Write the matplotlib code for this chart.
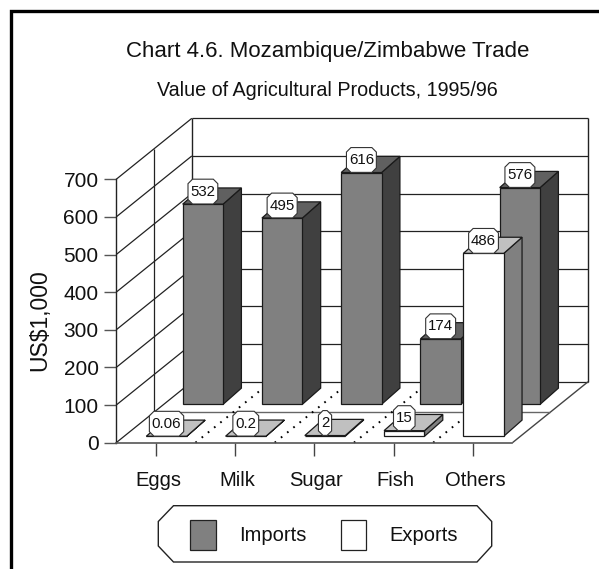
import matplotlib
matplotlib.use('Agg')
import matplotlib.pyplot as plt
from matplotlib.patches import Polygon, Rectangle
from matplotlib.path import Path
from matplotlib.transforms import ScaledTranslation

plt.rcParams['font.family'] = ['Liberation Sans', 'DejaVu Sans']

categories = ['Eggs', 'Milk', 'Sugar', 'Fish', 'Others']
imports = [532, 495, 616, 174, 576]
exports = [0.06, 0.2, 2, 15, 486]
export_labels = ['0.06', '0.2', '2', '15', '486']
yticks = [0, 100, 200, 300, 400, 500, 600, 700]

# oblique projection, in category / value units
DEPTH_X, DEPTH_Y = 0.954, 162
BAR_W = 0.51
BAR_DX, BAR_DY = 0.231, 43
INK = '#222222'

fig = plt.figure(figsize=(5.99, 5.69), dpi=100)

# page furniture in pixel coordinates
page = fig.add_axes([0, 0, 1, 1])
page.set_xlim(0, 599)
page.set_ylim(569, 0)
page.axis('off')
page.plot([11.3, 11.3, 599], [569, 10.6, 10.6], color='black', lw=2.4,
          solid_joinstyle='miter')

fig.text(328 / 599, 1 - 51.5 / 569, 'Chart 4.6. Mozambique/Zimbabwe Trade',
         ha='center', va='center', fontsize=16, color='#111111')
fig.text(327 / 599, 1 - 90 / 569, 'Value of Agricultural Products, 1995/96',
         ha='center', va='center', fontsize=14.2, color='#111111')

# legend box
page.add_patch(Polygon([(173.5, 505.7), (477, 505.7), (491.7, 521.5), (491.7, 546),
                        (477, 562), (173.5, 562), (158.3, 546), (158.3, 521.5)],
                       fc='white', ec=INK, lw=1))
page.add_patch(Rectangle((190.3, 520), 25.7, 30, fc='#808080', ec=INK, lw=0.9))
page.add_patch(Rectangle((340.7, 520), 25.7, 30, fc='white', ec=INK, lw=0.9))
page.text(239, 535.5, 'Imports', ha='left', va='center', fontsize=14.5, color='#111111')
page.text(389, 535.5, 'Exports', ha='left', va='center', fontsize=14.5, color='#111111')

ax = fig.add_axes([116.2 / 599, 1 - 442.7 / 569, 396.25 / 599, 263.4 / 569])
ax.patch.set_visible(False)
ax.set_xlim(0, len(categories))
ax.set_ylim(0, 700)
for side in ['top', 'right']:
    ax.spines[side].set_visible(False)
ax.spines['left'].set_color(INK)
ax.spines['left'].set_linewidth(1)
ax.spines['bottom'].set_color('#555555')
ax.spines['bottom'].set_linewidth(1.2)

ax.set_yticks(yticks)
ax.tick_params(axis='y', length=8.4, width=1, color='#555555', pad=4.3, labelsize=15,
               labelcolor='#111111')
ax.set_xticks([i + 0.5 for i in range(len(categories))])
ax.set_xticklabels(categories)
ax.tick_params(axis='x', length=9.6, width=1, color='#444444', pad=10.5, labelsize=14.5,
               labelcolor='#111111')
for lab in ax.get_xticklabels():
    lab.set_transform(lab.get_transform() + ScaledTranslation(1.5 / 72, 0, fig.dpi_scale_trans))
ax.set_ylabel('US$1,000', fontsize=16.5, color='#111111', va='center')
ax.yaxis.set_label_coords((40 - 116.2) / 396.25, 0.466)


def line(xs, ys, **kw):
    ax.plot(xs, ys, clip_on=False, solid_capstyle='butt', **kw)


n = len(categories)

# walls
for v in yticks:
    line([0, DEPTH_X], [v, v + DEPTH_Y], color=INK, lw=0.9)
    line([DEPTH_X, DEPTH_X + n], [v + DEPTH_Y, v + DEPTH_Y], color=INK, lw=0.9)
line([DEPTH_X, DEPTH_X], [DEPTH_Y, 700 + DEPTH_Y], color=INK, lw=1)
line([DEPTH_X + n, DEPTH_X + n], [DEPTH_Y, 700 + DEPTH_Y], color=INK, lw=1)
line([DEPTH_X / 2, DEPTH_X / 2], [DEPTH_Y / 2, 700 + DEPTH_Y / 2], color=INK, lw=0.9)

# floor
line([n, n + DEPTH_X], [0, DEPTH_Y], color='#444444', lw=1)
line([DEPTH_X / 2, n + DEPTH_X / 2], [DEPTH_Y / 2, DEPTH_Y / 2], color='#666666', lw=1)
for i in range(1, n):
    ax.plot([i, i + DEPTH_X], [0, DEPTH_Y], clip_on=False, color='black', lw=1.4,
            linestyle=(0, (0.9, 3.2)))


def draw_bar(u, base, value, front, side, top, zorder):
    x0, x1 = u, u + BAR_W
    y0, y1 = base, base + value
    edge = dict(ec='#1a1a1a', lw=0.9, clip_on=False, zorder=zorder, joinstyle='miter')
    ax.add_patch(Polygon([(x1, y0), (x1 + BAR_DX, y0 + BAR_DY), (x1 + BAR_DX, y1 + BAR_DY), (x1, y1)],
                         fc=side, **edge))
    ax.add_patch(Polygon([(x0, y1), (x1, y1), (x1 + BAR_DX, y1 + BAR_DY), (x0 + BAR_DX, y1 + BAR_DY)],
                         fc=top, **edge))
    ax.add_patch(Rectangle((x0, y0), BAR_W, value, fc=front, **edge))


def tag_box(x0, y0, w, h, scale):
    # narrow at the sides, tall above and below, corners cut off
    px, py, c = 0.16 * scale, 0.36 * scale, 0.3 * scale
    l, r, b, t = x0 - px, x0 + w + px, y0 - py, y0 + h + py
    return Path([(l + c, b), (r - c, b), (r, b + c), (r, t - c), (r - c, t), (l + c, t),
                 (l, t - c), (l, b + c), (l + c, b)], closed=True)


def draw_label(u, base, value, text):
    ax.annotate(text, (u + BAR_W / 2, base + value), xytext=(0, 4), textcoords='offset points',
                ha='center', va='bottom', fontsize=10.8, color='#111111', annotation_clip=False, zorder=20,
                bbox=dict(boxstyle=tag_box, fc='white', ec='#333333', lw=0.8))


# back row first, then the front row over it
for i, v in enumerate(imports):
    draw_bar(i + 0.839, 102, v, '#808080', '#404040', '#606060', 5)
    draw_label(i + 0.839, 102, v, str(v))
for i, v in enumerate(exports):
    draw_bar(i + 0.38, 17, v, 'white', '#808080', '#c0c0c0', 6)
    draw_label(i + 0.38, 17, v, export_labels[i])

fig.savefig('out.png', dpi=100)
